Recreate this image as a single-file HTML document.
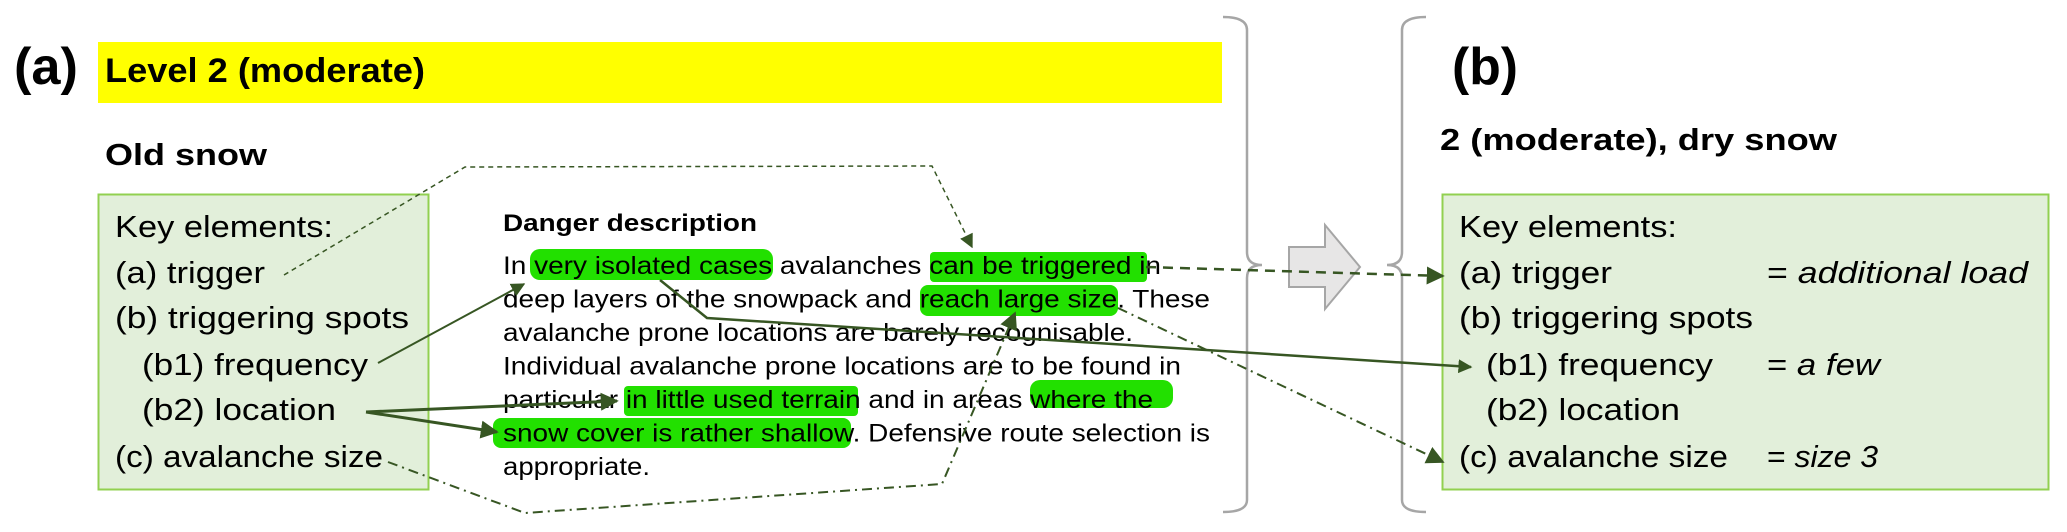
<!DOCTYPE html>
<html><head><meta charset="utf-8"><style>html,body{margin:0;padding:0;background:#fff}svg{display:block}</style></head>
<body>
<svg width="2067" height="532" viewBox="0 0 2067 532" xmlns="http://www.w3.org/2000/svg" font-family="Liberation Sans, sans-serif">
<defs>
<marker id="ah" viewBox="0 0 10 10" refX="9" refY="5" markerWidth="14" markerHeight="14" markerUnits="userSpaceOnUse" orient="auto"><path d="M0,0 L10,5 L0,10 z" fill="#375623"/></marker>
<marker id="ahb" viewBox="0 0 10 10" refX="9" refY="5" markerWidth="18" markerHeight="18" markerUnits="userSpaceOnUse" orient="auto"><path d="M0,0 L10,5 L0,10 z" fill="#375623"/></marker>
</defs>
<!-- (a) -->
<text x="14" y="84" font-size="52" font-weight="bold" textLength="64" lengthAdjust="spacingAndGlyphs">(a)</text>
<rect x="98" y="42" width="1124" height="61" fill="#ffff00"/>
<text x="105" y="82" font-size="34" font-weight="bold" textLength="320" lengthAdjust="spacingAndGlyphs">Level 2 (moderate)</text>
<text x="105" y="165" font-size="31" font-weight="bold" textLength="162" lengthAdjust="spacingAndGlyphs">Old snow</text>
<!-- left box -->
<rect x="98.5" y="194.5" width="330" height="295" fill="#e2efda" stroke="#92d050" stroke-width="2"/>
<g font-size="31" fill="#000" lengthAdjust="spacingAndGlyphs">
<text x="115" y="237" textLength="218" lengthAdjust="spacingAndGlyphs">Key elements:</text>
<text x="115" y="283" textLength="150" lengthAdjust="spacingAndGlyphs">(a) trigger</text>
<text x="115" y="328" textLength="294" lengthAdjust="spacingAndGlyphs">(b) triggering spots</text>
<text x="142" y="375" textLength="226" lengthAdjust="spacingAndGlyphs">(b1) frequency</text>
<text x="142" y="420" textLength="194" lengthAdjust="spacingAndGlyphs">(b2) location</text>
<text x="115" y="467" textLength="268" lengthAdjust="spacingAndGlyphs">(c) avalanche size</text>
</g>
<!-- highlights -->
<g fill="#22e000">
<rect x="530" y="249" width="243" height="31" rx="10"/>
<rect x="930" y="252" width="217" height="30" rx="4"/>
<rect x="920" y="285" width="198" height="31" rx="8"/>
<rect x="624" y="386" width="234" height="30" rx="4"/>
<rect x="1030" y="380" width="143" height="28" rx="10"/>
<rect x="493" y="418" width="358" height="30" rx="8"/>
</g>
<!-- danger description -->
<text x="503" y="231" font-size="24" font-weight="bold" textLength="254" lengthAdjust="spacingAndGlyphs">Danger description</text>
<g font-size="25" fill="#000">
<text x="503" y="274" textLength="658" lengthAdjust="spacingAndGlyphs">In very isolated cases avalanches can be triggered in</text>
<text x="503" y="307.5" textLength="707" lengthAdjust="spacingAndGlyphs">deep layers of the snowpack and reach large size. These</text>
<text x="503" y="341" textLength="630" lengthAdjust="spacingAndGlyphs">avalanche prone locations are barely recognisable.</text>
<text x="503" y="374.5" textLength="678" lengthAdjust="spacingAndGlyphs">Individual avalanche prone locations are to be found in</text>
<text x="503" y="408" textLength="650" lengthAdjust="spacingAndGlyphs">particular in little used terrain and in areas where the</text>
<text x="503" y="441.5" textLength="707" lengthAdjust="spacingAndGlyphs">snow cover is rather shallow. Defensive route selection is</text>
<text x="503" y="475" textLength="147" lengthAdjust="spacingAndGlyphs">appropriate.</text>
</g>
<!-- brackets -->
<g fill="none" stroke="#a6a6a6" stroke-width="2.5">
<path d="M1223,17 Q1247,17 1247,30 L1247,252 Q1247,265 1262,265 Q1247,265 1247,278 L1247,500 Q1247,512 1223,512"/>
<path d="M1426,17 Q1402,17 1402,30 L1402,252 Q1402,265 1387,265 Q1402,265 1402,278 L1402,500 Q1402,512 1426,512"/>
</g>
<!-- big arrow -->
<path d="M1289,247 L1325,247 L1325,225 L1360,267 L1325,309 L1325,287 L1289,287 Z" fill="#e7e6e6" stroke="#a6a6a6" stroke-width="2"/>
<!-- (b) -->
<text x="1452" y="84" font-size="52" font-weight="bold" textLength="66" lengthAdjust="spacingAndGlyphs">(b)</text>
<text x="1440" y="150" font-size="31" font-weight="bold" textLength="397" lengthAdjust="spacingAndGlyphs">2 (moderate), dry snow</text>
<rect x="1442.5" y="194.5" width="606" height="295" fill="#e2efda" stroke="#92d050" stroke-width="2"/>
<g font-size="31" fill="#000">
<text x="1459" y="237" textLength="218" lengthAdjust="spacingAndGlyphs">Key elements:</text>
<text x="1459" y="283" textLength="153" lengthAdjust="spacingAndGlyphs">(a) trigger</text>
<text x="1767" y="283" textLength="261" lengthAdjust="spacingAndGlyphs">= <tspan font-style="italic">additional load</tspan></text>
<text x="1459" y="328" textLength="294" lengthAdjust="spacingAndGlyphs">(b) triggering spots</text>
<text x="1486" y="375" textLength="227" lengthAdjust="spacingAndGlyphs">(b1) frequency</text>
<text x="1767" y="375" textLength="113" lengthAdjust="spacingAndGlyphs">= <tspan font-style="italic">a few</tspan></text>
<text x="1486" y="420" textLength="194" lengthAdjust="spacingAndGlyphs">(b2) location</text>
<text x="1459" y="467" textLength="269" lengthAdjust="spacingAndGlyphs">(c) avalanche size</text>
<text x="1767" y="467" textLength="111" lengthAdjust="spacingAndGlyphs">= <tspan font-style="italic">size 3</tspan></text>
</g>
<!-- connectors -->
<g fill="none" stroke="#375623">
<path d="M284,275 L465,167 L932,166 L972,247" stroke-width="1.5" stroke-dasharray="5,4" marker-end="url(#ah)"/>
<path d="M1146,267 L1443,276" stroke-width="2.5" stroke-dasharray="10,7" marker-end="url(#ahb)"/>
<path d="M378,363 L524,284" stroke-width="2" marker-end="url(#ah)"/>
<path d="M366,412 L617,401" stroke-width="3" marker-end="url(#ahb)"/>
<path d="M366,412 L497,432" stroke-width="3" marker-end="url(#ahb)"/>
<path d="M660,280 L707,318 L1471,367" stroke-width="2.5" marker-end="url(#ah)"/>
<path d="M1118,308 L1443,462" stroke-width="2" stroke-dasharray="10,5,2,5" marker-end="url(#ahb)"/>
<path d="M388,462 L525,513 L942,484 L1015,313" stroke-width="2" stroke-dasharray="10,5,2,5" marker-end="url(#ahb)"/>
</g>
</svg>
</body></html>
